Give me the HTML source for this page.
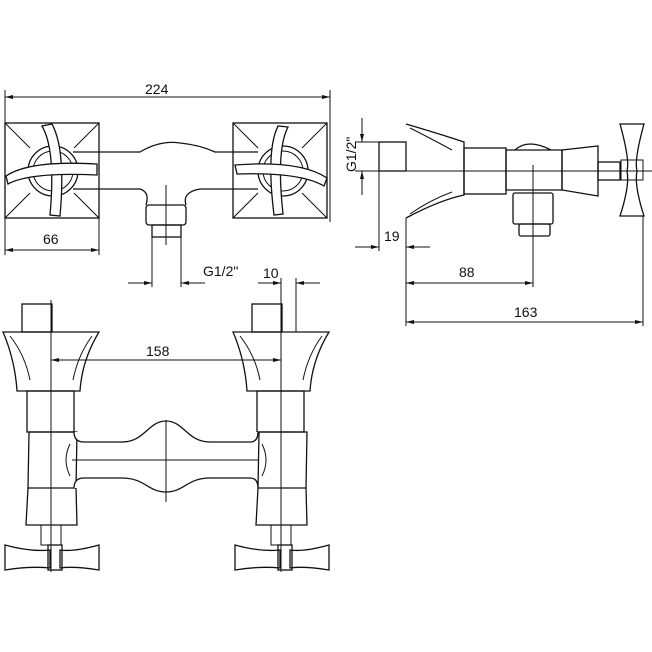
<!DOCTYPE html>
<html><head><style>body{margin:0;background:#fff}svg{display:block}text{font-family:"Liberation Sans",sans-serif;font-size:14px;fill:#111}</style></head><body>
<svg width="652" height="652" viewBox="0 0 652 652" xmlns="http://www.w3.org/2000/svg">
<defs><marker id="a" markerWidth="8" markerHeight="6" refX="8" refY="3" orient="auto-start-reverse"><path d="M0,1 L8,3 L0,5z" fill="#111"/></marker></defs>
<g fill="none" stroke="#111" stroke-width="1.3">
<!-- TOP VIEW -->
<line x1="5" y1="90" x2="5" y2="255" stroke-width="1"/><line x1="330" y1="90" x2="330" y2="222" stroke-width="1"/>
<line x1="5" y1="97" x2="330" y2="97" stroke-width="1" marker-start="url(#a)" marker-end="url(#a)"/>
<line x1="99" y1="218" x2="99" y2="255" stroke-width="1"/>
<line x1="5" y1="250" x2="99" y2="250" stroke-width="1" marker-start="url(#a)" marker-end="url(#a)"/>
<rect x="5" y="123" width="94" height="95"/><rect x="233" y="123" width="94" height="95"/>
<path d="M5,123 L30,148 M99,123 L74,148 M5,218 L30,193 M99,218 L74,193" stroke-width="1"/>
<path d="M233,123 L258,148 M327,123 L302,148 M233,218 L258,193 M327,218 L302,193" stroke-width="1"/>
<circle cx="53" cy="171" r="25"/><circle cx="53" cy="171" r="20" stroke-width="1"/>
<circle cx="283" cy="171" r="25"/><circle cx="283" cy="171" r="20" stroke-width="1"/>
<path d="M42,126 Q56,150 50,215 L60,216 Q66,150 52,124Z" fill="#fff"/>
<path d="M6,176 Q30,160 97,164 L97,175 Q30,172 8,184Z" fill="#fff"/>
<path d="M278,126 Q266,150 274,215 L283,214 Q276,150 288,127Z" fill="#fff"/>
<path d="M235,165 Q300,160 327,178 L324,186 Q300,172 237,174Z" fill="#fff"/>
<path d="M73,152 L140,152 Q160,140 180,143 Q200,145 215,152 L258,152"/>
<path d="M73,189 L140,189 Q150,192 146,205 M186,205 Q182,192 200,189 L258,189"/>
<rect x="146" y="205" width="40" height="20" rx="3"/><rect x="152" y="225" width="29" height="12"/>
<line x1="152" y1="237" x2="152" y2="287" stroke-width="1"/><line x1="181" y1="237" x2="181" y2="287" stroke-width="1"/>
<line x1="128" y1="283" x2="152" y2="283" stroke-width="1" marker-end="url(#a)"/>
<line x1="205" y1="283" x2="181" y2="283" stroke-width="1" marker-end="url(#a)"/>
<line x1="166" y1="185" x2="166" y2="245" stroke-width="1"/>
<!-- 10 dim -->
<line x1="258" y1="283" x2="281" y2="283" stroke-width="1" marker-end="url(#a)"/>
<line x1="320" y1="283" x2="296" y2="283" stroke-width="1" marker-end="url(#a)"/>
<line x1="281" y1="278" x2="281" y2="570" stroke-width="1"/><line x1="296" y1="278" x2="296" y2="332" stroke-width="1"/>
<!-- SIDE VIEW -->
<line x1="355" y1="142" x2="379" y2="142" stroke-width="1"/><line x1="355" y1="171" x2="379" y2="171" stroke-width="1"/>
<line x1="362" y1="118" x2="362" y2="142" stroke-width="1" marker-end="url(#a)"/>
<line x1="362" y1="195" x2="362" y2="171" stroke-width="1" marker-end="url(#a)"/>
<rect x="379" y="142" width="27" height="29"/>
<line x1="380" y1="171" x2="652" y2="171" stroke-width="1"/>
<path d="M406,124 Q440,134 464,142 L464,195 Q440,200 406,218"/>
<path d="M410,128 Q430,138 452,150 M410,214 Q430,200 452,192" stroke-width="1"/>
<rect x="464" y="148" width="42" height="46"/>
<path d="M506,150 L562,150 L562,190 L506,190Z M515,150 Q528,138 551,150"/>
<path d="M562,150 L598,146 L598,196 L562,190Z"/>
<rect x="598" y="162" width="22" height="18"/>
<path d="M620,124 L644,124 Q634,160 637,171 Q634,185 644,216 L620,216 Q630,185 627,171 Q630,160 620,124Z"/>
<rect x="621" y="160" width="22" height="20" stroke-width="1"/>
<rect x="513" y="193" width="40" height="31" rx="2"/><rect x="519" y="224" width="31" height="12" rx="2"/>
<line x1="533" y1="165" x2="533" y2="287" stroke-width="1"/>
<line x1="379" y1="171" x2="379" y2="251" stroke-width="1"/><line x1="406" y1="218" x2="406" y2="326" stroke-width="1"/>
<line x1="355" y1="247" x2="379" y2="247" stroke-width="1" marker-end="url(#a)"/>
<line x1="430" y1="247" x2="406" y2="247" stroke-width="1" marker-end="url(#a)"/>
<line x1="406" y1="283" x2="533" y2="283" stroke-width="1" marker-start="url(#a)" marker-end="url(#a)"/>
<line x1="643" y1="216" x2="643" y2="326" stroke-width="1"/>
<line x1="406" y1="322" x2="643" y2="322" stroke-width="1" marker-start="url(#a)" marker-end="url(#a)"/>
<!-- FRONT VIEW -->
<g id="v">
<rect x="22" y="304" width="30" height="28"/>
<path d="M3,332 L99,332 Q82,360 80,391 L17,391 Q15,360 3,332Z"/>
<path d="M10,336 Q25,355 30,380 M92,336 Q78,355 73,380" stroke-width="1"/>
<rect x="27" y="391" width="47" height="41"/>
<path d="M29,432 L77,432 L76,488 L28,488Z M28,488 L76,488 L77,525 L26,525Z"/>
<rect x="41" y="525" width="20" height="20" stroke-width="1"/>
<path d="M5,545 Q30,552 50,550 L50,568 Q30,566 5,570Z M99,545 Q74,552 60,550 L60,568 Q74,566 99,570Z"/>
<rect x="48" y="545" width="14" height="25"/>
<line x1="51" y1="300" x2="51" y2="572" stroke-width="1"/>
</g>
<use href="#v" x="230"/>
<line x1="51" y1="360" x2="281" y2="360" stroke-width="1" marker-start="url(#a)" marker-end="url(#a)"/>
<path d="M74,432 Q74,442 84,442 L122,442 C145,442 148,421 166,421 C184,421 187,442 210,442 L250,442 Q258,442 258,432" fill="#fff"/>
<path d="M74,488 Q74,478 84,478 L122,478 C145,478 148,492 166,492 C184,492 187,478 210,478 L250,478 Q258,478 258,488" fill="#fff"/>
<path d="M70,444 Q62,460 70,476 M262,444 Q270,460 262,476" stroke-width="1"/>
<line x1="72" y1="460" x2="258" y2="460" stroke-width="1"/><line x1="166" y1="420" x2="166" y2="502" stroke-width="1"/>
</g>
<text x="145" y="94">224</text><text x="43" y="244">66</text><text x="203" y="276">G1/2"</text><text x="263" y="278">10</text>
<text x="146" y="356">158</text><text x="384" y="241">19</text><text x="459" y="277">88</text><text x="514" y="317">163</text>
<text transform="translate(356,172) rotate(-90)">G1/2"</text>
</svg>
</body></html>
